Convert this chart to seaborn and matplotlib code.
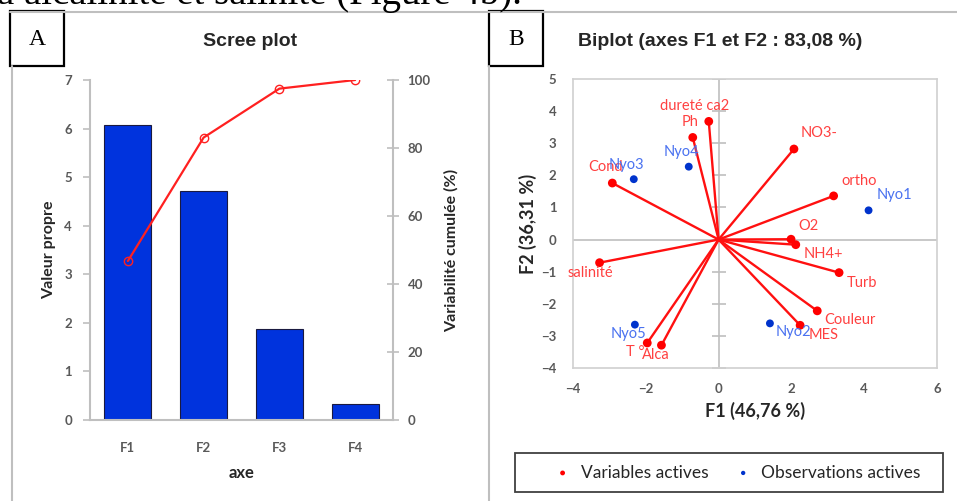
import numpy as np
import seaborn as sns
import matplotlib.pyplot as plt
from matplotlib.patches import Rectangle
from matplotlib.lines import Line2D

# scree plot data
facteurs = ["F1", "F2", "F3", "F4"]
valeurs_propres = [6.08, 4.72, 1.87, 0.33]
variabilite_cumulee = [46.76, 83.08, 97.46, 100.0]

# biplot data : variables actives (F1, F2)
variables = ["dureté ca2", "Ph", "NO3-", "Cond", "ortho", "O2", "NH4+",
             "salinité", "Turb", "Couleur", "MES", "T °", "Alca"]
var_f1 = [-0.27, -0.71, 2.07, -2.92, 3.16, 1.99, 2.12, -3.27, 3.31, 2.71, 2.24, -1.96, -1.57]
var_f2 = [3.68, 3.18, 2.82, 1.76, 1.36, 0.01, -0.16, -0.72, -1.03, -2.22, -2.67, -3.22, -3.29]

# observations actives
observations = ["Nyo1", "Nyo2", "Nyo3", "Nyo4", "Nyo5"]
obs_f1 = [4.12, 1.41, -2.33, -0.82, -2.30]
obs_f2 = [0.91, -2.61, 1.88, 2.27, -2.65]

# label offsets in pixels (layout only)
var_offsets = {"dureté ca2": (-14, 15), "Ph": (-3, 15), "NO3-": (25, 16), "Cond": (-7, 16),
               "ortho": (26, 15), "O2": (17, 13), "NH4+": (28, -9), "salinité": (-9, -10),
               "Turb": (23, -10), "Couleur": (33, -9), "MES": (23, -10), "T °": (-12, -9),
               "Alca": (-6, -10)}
obs_offsets = {"Nyo1": (26, 15), "Nyo2": (24, -9), "Nyo3": (-7, 14), "Nyo4": (-7, 15),
               "Nyo5": (-6, -9)}

sns.set_theme(style="white")
plt.rcParams['font.family'] = ['Lato', 'DejaVu Sans']

W, H = 957, 501
fig = plt.figure(figsize=(W / 100, H / 100), dpi=100)


def fx(px):
    return px / W


def fy(py):
    return 1 - py / H


grey = "#bfbfbf"
tick_col = "#595959"
label_col = "#262626"

# ---------- panel A : scree plot ----------
ax1 = fig.add_axes([fx(90), fy(420), fx(393 - 90), (420 - 80) / H])
sns.barplot(x=facteurs, y=valeurs_propres, color="#0033dd", saturation=1, width=0.62,
            edgecolor="#1a1a40", linewidth=0.8, ax=ax1)
ax1.set_xlim(-0.5, 3.5)
ax1.set_ylim(0, 7)
ax1.set_yticks(range(0, 8))
for s in ["top", "right"]:
    ax1.spines[s].set_visible(False)
for s in ["left", "bottom"]:
    ax1.spines[s].set_color(grey)
    ax1.spines[s].set_linewidth(1.5)
ax1.tick_params(axis="y", left=True, length=5, color=grey, width=1.2, labelsize=9.5,
                labelcolor=tick_col, pad=8)
ax1.tick_params(axis="x", bottom=False, labelsize=9.5, labelcolor=tick_col, pad=10)
ax1.set_xlabel("axe", fontsize=12, color=label_col, fontweight="bold", labelpad=8)
ax1.set_ylabel("Valeur propre", fontsize=11.5, color=label_col, fontweight="bold", labelpad=6)

ax2 = ax1.twinx()
sns.lineplot(x=np.arange(len(facteurs)), y=variabilite_cumulee, ax=ax2, color="#ff2020",
             linewidth=1.6, marker="o", markersize=6, markerfacecolor="none",
             markeredgecolor="#ff2020", markeredgewidth=1.0)
ax2.set_ylim(0, 100)
ax2.set_yticks(range(0, 101, 20))
for s in ["top", "left", "bottom"]:
    ax2.spines[s].set_visible(False)
ax2.spines["right"].set_color(grey)
ax2.spines["right"].set_linewidth(1.5)
ax2.tick_params(axis="y", right=True, direction="inout", length=9, color=grey, width=1.2,
                labelsize=9.5, labelcolor=tick_col, pad=6)
ax2.set_ylabel("Variabilité cumulée (%)", fontsize=11.5, color=label_col,
               fontweight="bold", labelpad=10)
for t in ax1.get_xticklabels() + ax1.get_yticklabels() + ax2.get_yticklabels():
    t.set_fontweight("bold")

fig.text(fx(250), fy(42), "Scree plot", ha="center", va="center", fontsize=14,
         fontweight="bold", color=label_col, fontfamily="Liberation Sans")

# ---------- panel B : biplot ----------
ax3 = fig.add_axes([fx(573), fy(368), fx(937 - 573), (368 - 79) / H])
ax3.set_xlim(-4, 6)
ax3.set_ylim(-4, 5)
ax3.axhline(0, color=grey, lw=1.2, zorder=0)
ax3.axvline(0, color=grey, lw=1.2, zorder=0)
yt = list(range(-4, 6))
ax3.plot(np.zeros(len(yt)), yt, ls="none", marker="_", ms=10, mew=1.2, color=grey, zorder=0)
for x, y in zip(var_f1, var_f2):
    ax3.plot([0, x], [0, y], color="#ff1010", lw=1.7, zorder=2)
sns.scatterplot(x=var_f1, y=var_f2, color="#ff0000", s=40, edgecolor="none", ax=ax3,
                label="Variables actives", zorder=3)
sns.scatterplot(x=obs_f1, y=obs_f2, color="#0033cc", s=32, edgecolor="none", ax=ax3,
                label="Observations actives", zorder=3)
for name, x, y in zip(variables, var_f1, var_f2):
    ax3.annotate(name, (x, y), xytext=var_offsets[name], textcoords="offset pixels",
                 ha="center", va="center", fontsize=10.5, color="#ff4040")
for name, x, y in zip(observations, obs_f1, obs_f2):
    ax3.annotate(name, (x, y), xytext=obs_offsets[name], textcoords="offset pixels",
                 ha="center", va="center", fontsize=10.5, color="#4a72f0")
ax3.set_xticks(range(-4, 7, 2))
ax3.set_yticks(yt)
for s in ax3.spines.values():
    s.set_color("#d0d0d0")
    s.set_linewidth(1.2)
ax3.tick_params(axis="both", length=0, labelsize=9.5, labelcolor=tick_col)
ax3.tick_params(axis="y", pad=12)
ax3.tick_params(axis="x", pad=11)
for t in ax3.get_xticklabels() + ax3.get_yticklabels():
    t.set_fontweight("bold")
ax3.set_xlabel("F1 (46,76 %)", fontsize=13, fontweight="bold", color=label_col, labelpad=5)
ax3.set_ylabel("F2 (36,31 %)", fontsize=13, fontweight="bold", color=label_col, labelpad=3)
handles, labels = ax3.get_legend_handles_labels()
ax3.get_legend().remove()
fig.add_artist(Rectangle((fx(515), fy(492)), fx(943 - 515), (492 - 453) / H,
                         facecolor="none", edgecolor="#404040", lw=1.3,
                         transform=fig.transFigure))
fig.legend(handles, labels, loc="center", ncol=2, bbox_to_anchor=(fx(733), fy(472.5)),
           fontsize=12.5, frameon=False, handletextpad=0.05, markerscale=0.55,
           columnspacing=1.0, labelcolor="#262626")

fig.text(fx(578), fy(42), "Biplot (axes F1 et F2 : 83,08 %)", ha="left", va="center",
         fontsize=14, fontweight="bold", color=label_col, fontfamily="Liberation Sans")

# ---------- page decorations ----------
fig.text(fx(-3), fy(4), "à alcalinité et salinité (Figure 4b).", ha="left", va="baseline",
         fontfamily="Liberation Serif", fontsize=28, color="black")
fig.add_artist(Line2D([fx(10), fx(957)], [fy(12), fy(12)], color=grey, lw=1.5))
fig.add_artist(Line2D([fx(12), fx(12)], [fy(66), fy(501)], color=grey, lw=1.5))
fig.add_artist(Line2D([fx(489), fx(489)], [fy(66), fy(501)], color=grey, lw=1.5))
for x0, lab in [(10, "A"), (489, "B")]:
    fig.add_artist(Rectangle((fx(x0), fy(66)), fx(54), 55 / H, facecolor="white",
                             edgecolor="black", lw=1.6, transform=fig.transFigure))
    fig.text(fx(x0 + 27), fy(39), lab, ha="center", va="center",
             fontfamily="Liberation Serif", fontsize=17, color="black")

plt.savefig("out.png", dpi=100)
